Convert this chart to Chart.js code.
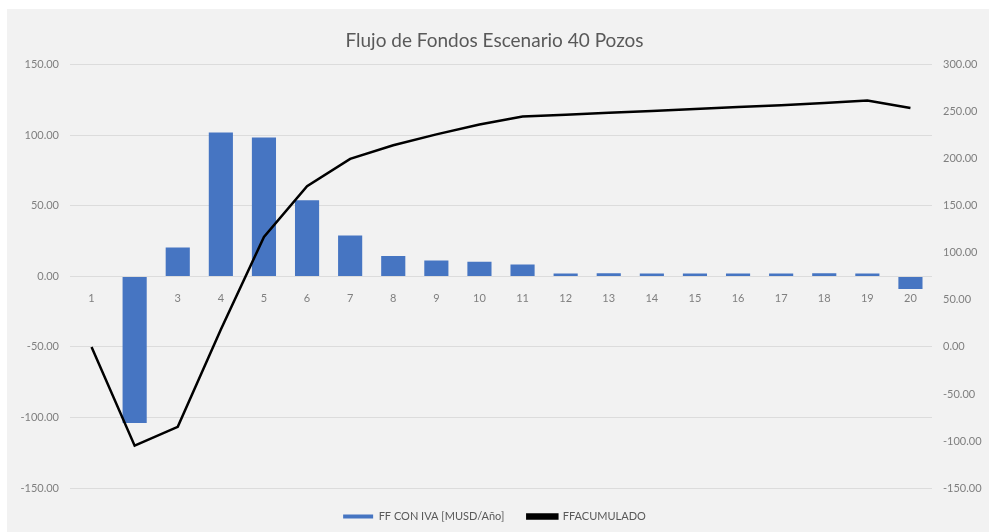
<!DOCTYPE html>
<html>
<head>
<meta charset="utf-8">
<script src="https://cdn.jsdelivr.net/npm/chart.js@4/dist/chart.umd.min.js"></script>
<style>
  html, body { margin: 0; padding: 0; background: #ffffff; }
  #wrap { width: 989px; height: 532px; position: relative; }
</style>
</head>
<body>
<div id="wrap"><canvas id="c" width="989" height="532"></canvas></div>
<script>
// Años del proyecto
const years = ['1','2','3','4','5','6','7','8','9','10','11','12','13','14','15','16','17','18','19','20'];
// Flujo de fondos anual con IVA [MUSD/Año]
const ffConIva = [0, -104, 20.5, 102, 98.5, 54, 29, 14.5, 11.3, 10.4, 8.5, 2, 2.2, 2, 2.1, 2, 2.1, 2.2, 2, -9];
// Flujo de fondos acumulado
const ffAcumulado = [0, -105, -85, 18.5, 117, 171, 200, 214.5, 226, 236.5, 245, 247, 249, 251, 253, 255, 257, 259.5, 262, 254];
// Rangos y pasos de los ejes
const leftAxis = { min: -150, max: 150, step: 50 };
const rightAxis = { min: -150, max: 300, step: 50 };

const FONT = 'Lato, "Open Sans", "Liberation Sans", sans-serif';

const backdrop = {
  id: 'backdrop',
  beforeDraw(chart) {
    const { ctx, width, height } = chart;
    ctx.save();
    ctx.fillStyle = '#ffffff';
    ctx.fillRect(0, 0, width, height);
    ctx.fillStyle = '#f2f2f2';
    ctx.fillRect(7, 9, width - 7, height - 9);
    ctx.restore();
  }
};

new Chart(document.getElementById('c'), {
  data: {
    labels: years,
    datasets: [
      {
        type: 'bar',
        label: 'FF CON IVA [MUSD/Año]',
        data: ffConIva,
        backgroundColor: '#4675c2',
        yAxisID: 'y',
        order: 1,
        categoryPercentage: 1,
        barPercentage: 0.56
      },
      {
        type: 'line',
        label: 'FFACUMULADO',
        data: ffAcumulado,
        borderColor: '#000000',
        backgroundColor: '#000000',
        borderWidth: 2.5,
        pointRadius: 0,
        tension: 0,
        yAxisID: 'y2',
        order: 0
      }
    ]
  },
  options: {
    responsive: false,
    animation: false,
    layout: { padding: { left: 0, right: 0, top: 0, bottom: 0 } },
    plugins: {
      title: {
        display: true,
        text: 'Flujo de Fondos Escenario 40 Pozos',
        color: '#595959',
        font: { family: FONT, size: 19, weight: 'normal' },
        padding: { top: 29, bottom: 13 }
      },
      legend: {
        position: 'bottom',
        labels: {
          color: '#595959',
          font: { family: FONT, size: 11 },
          boxWidth: 30,
          boxHeight: 4,
          padding: 23,
          sort: (a, b) => a.datasetIndex - b.datasetIndex
        }
      },
      tooltip: { enabled: false }
    },
    scales: {
      x: {
        position: { y: 0 },
        grid: { display: false },
        border: { display: false },
        ticks: {
          color: '#7f7f7f',
          font: { family: FONT, size: 11 },
          padding: 7,
          maxRotation: 0
        }
      },
      y: {
        position: 'left',
        min: leftAxis.min,
        max: leftAxis.max,
        grid: { color: '#dcdcdc', drawTicks: false },
        border: { display: false },
        ticks: {
          stepSize: leftAxis.step,
          color: '#7f7f7f',
          font: { family: FONT, size: 11 },
          padding: 11,
          callback: v => v.toFixed(2)
        },
        afterFit: s => { s.width = 70; }
      },
      y2: {
        position: 'right',
        min: rightAxis.min,
        max: rightAxis.max,
        grid: { display: false, drawTicks: false },
        border: { display: false },
        ticks: {
          stepSize: rightAxis.step,
          color: '#7f7f7f',
          font: { family: FONT, size: 11 },
          padding: 11,
          callback: v => v.toFixed(2)
        },
        afterFit: s => { s.width = 57; }
      }
    }
  },
  plugins: [backdrop]
});
</script>
</body>
</html>
